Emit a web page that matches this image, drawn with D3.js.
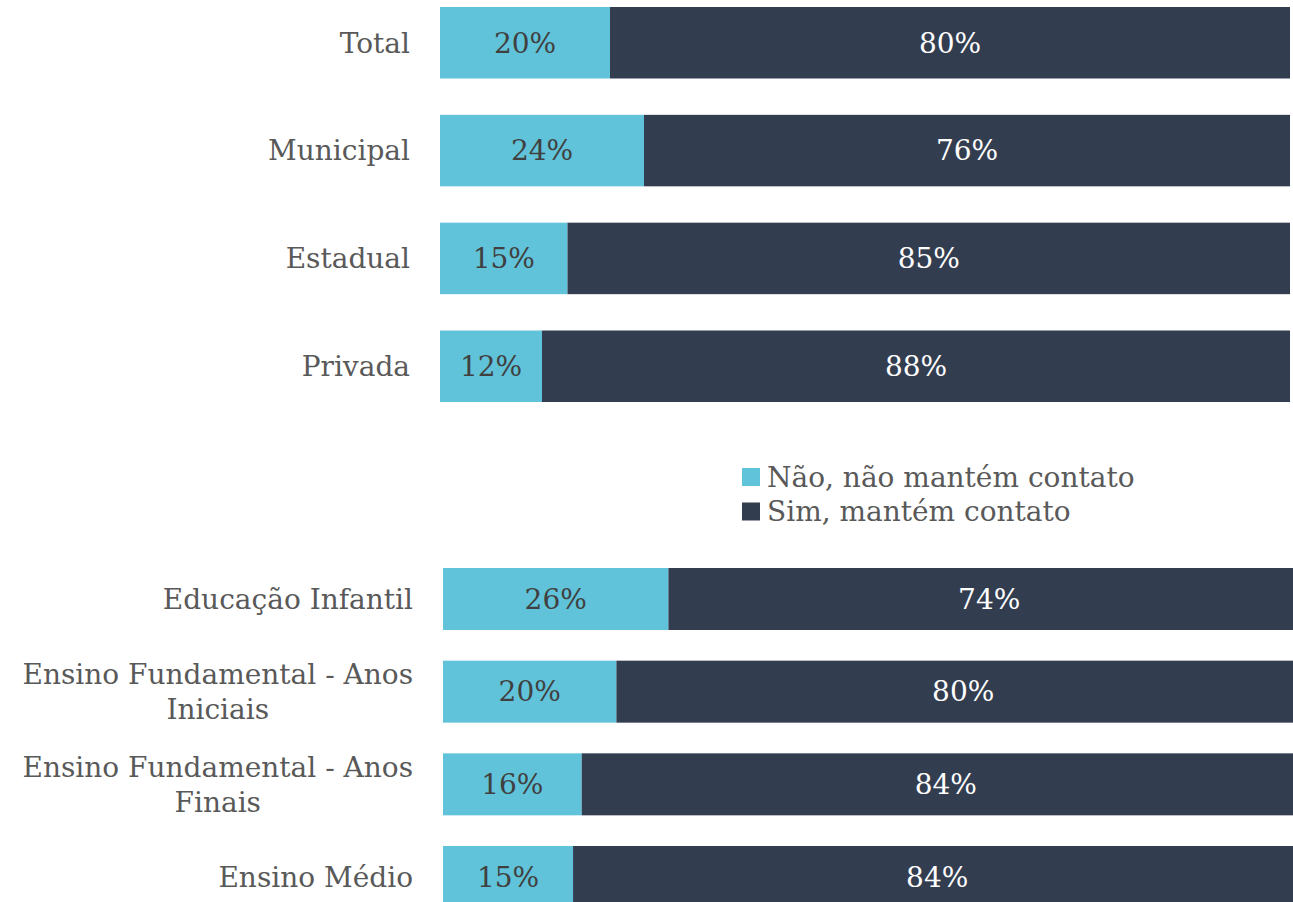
<!DOCTYPE html>
<html>
<head>
<meta charset="utf-8">
<script src="https://cdn.jsdelivr.net/npm/d3@7/dist/d3.min.js"></script>
<style>
  html, body { margin: 0; padding: 0; background: #ffffff; }
  svg { display: block; font-family: "DejaVu Serif", Georgia, serif; }
</style>
</head>
<body>
<svg id="chart" width="1293" height="902"></svg>
<script>
// ---- data ----
const seriesNames = ["Não, não mantém contato", "Sim, mantém contato"];
const seriesColors = ["#60C3D9", "#333D50"];

const topCategories = ["Total", "Municipal", "Estadual", "Privada"];
const topNao = [20, 24, 15, 12];
const topSim = [80, 76, 85, 88];

const bottomCategories = [
  ["Educação Infantil"],
  ["Ensino Fundamental - Anos", "Iniciais"],
  ["Ensino Fundamental - Anos", "Finais"],
  ["Ensino Médio"]
];
const bottomNao = [26, 20, 16, 15];
const bottomSim = [74, 80, 84, 84];

// ---- drawing ----
const svg = d3.select("#chart");
const labelColor = "#595959";
const fontSize = 28;

function drawGroup(cfg) {
  const keys = cfg.categories.map((c, i) => i);
  const rows = keys.map(i => ({ idx: i, nao: cfg.nao[i], sim: cfg.sim[i] }));
  const stack = d3.stack().keys(["nao", "sim"]);
  const layers = stack(rows);

  const x = d3.scaleLinear().domain([0, 100]).range(cfg.xRange);
  const y = d3.scaleBand().domain(keys).range(cfg.yRange)
    .paddingInner(cfg.padding).paddingOuter(0);

  const g = svg.append("g");

  layers.forEach((layer, li) => {
    const lg = g.append("g");
    lg.selectAll("rect").data(layer).join("rect")
      .attr("x", d => x(d[0]))
      .attr("y", d => y(d.data.idx))
      .attr("width", d => x(d[1]) - x(d[0]))
      .attr("height", y.bandwidth())
      .attr("fill", seriesColors[li]);
    lg.selectAll("text").data(layer).join("text")
      .attr("x", d => (x(d[0]) + x(d[1])) / 2)
      .attr("y", d => y(d.data.idx) + y.bandwidth() / 2)
      .attr("dy", "0.35em")
      .attr("text-anchor", "middle")
      .attr("font-size", fontSize)
      .attr("fill", li === 0 ? "#404040" : "#ffffff")
      .text(d => (d[1] - d[0]) + "%");
  });

  // category labels
  cfg.categories.forEach((cat, i) => {
    const lines = Array.isArray(cat) ? cat : [cat];
    const cy = y(i) + y.bandwidth() / 2;
    const t = g.append("text")
      .attr("font-size", fontSize)
      .attr("fill", labelColor);
    const lh = 35;
    lines.forEach((ln, k) => {
      t.append("tspan")
        .attr("y", cy + (k - (lines.length - 1) / 2) * lh)
        .attr("dy", "0.35em")
        .text(ln);
    });
    // block right-aligned, lines centred within block
    const widths = [];
    t.selectAll("tspan").each(function () { widths.push(this.getComputedTextLength()); });
    const maxW = d3.max(widths);
    const centre = cfg.labelRight - maxW / 2;
    t.attr("text-anchor", "middle");
    t.selectAll("tspan").attr("x", centre);
  });
}

drawGroup({
  categories: topCategories, nao: topNao, sim: topSim,
  xRange: [440, 1290], yRange: [7, 402], padding: 0.337,
  labelRight: 410
});

drawGroup({
  categories: bottomCategories, nao: bottomNao, sim: bottomSim,
  xRange: [443, 1310], yRange: [568, 908], padding: 0.331,
  labelRight: 413
});

// legend
const legend = svg.append("g").attr("transform", "translate(742,468)");
seriesNames.forEach((name, i) => {
  const row = legend.append("g").attr("transform", `translate(0,${i * 34.5})`);
  row.append("rect").attr("width", 18).attr("height", 18).attr("fill", seriesColors[i]);
  row.append("text").attr("x", 25).attr("y", 9).attr("dy", "0.35em")
    .attr("font-size", fontSize).attr("fill", labelColor).text(name);
});
</script>
</body>
</html>
